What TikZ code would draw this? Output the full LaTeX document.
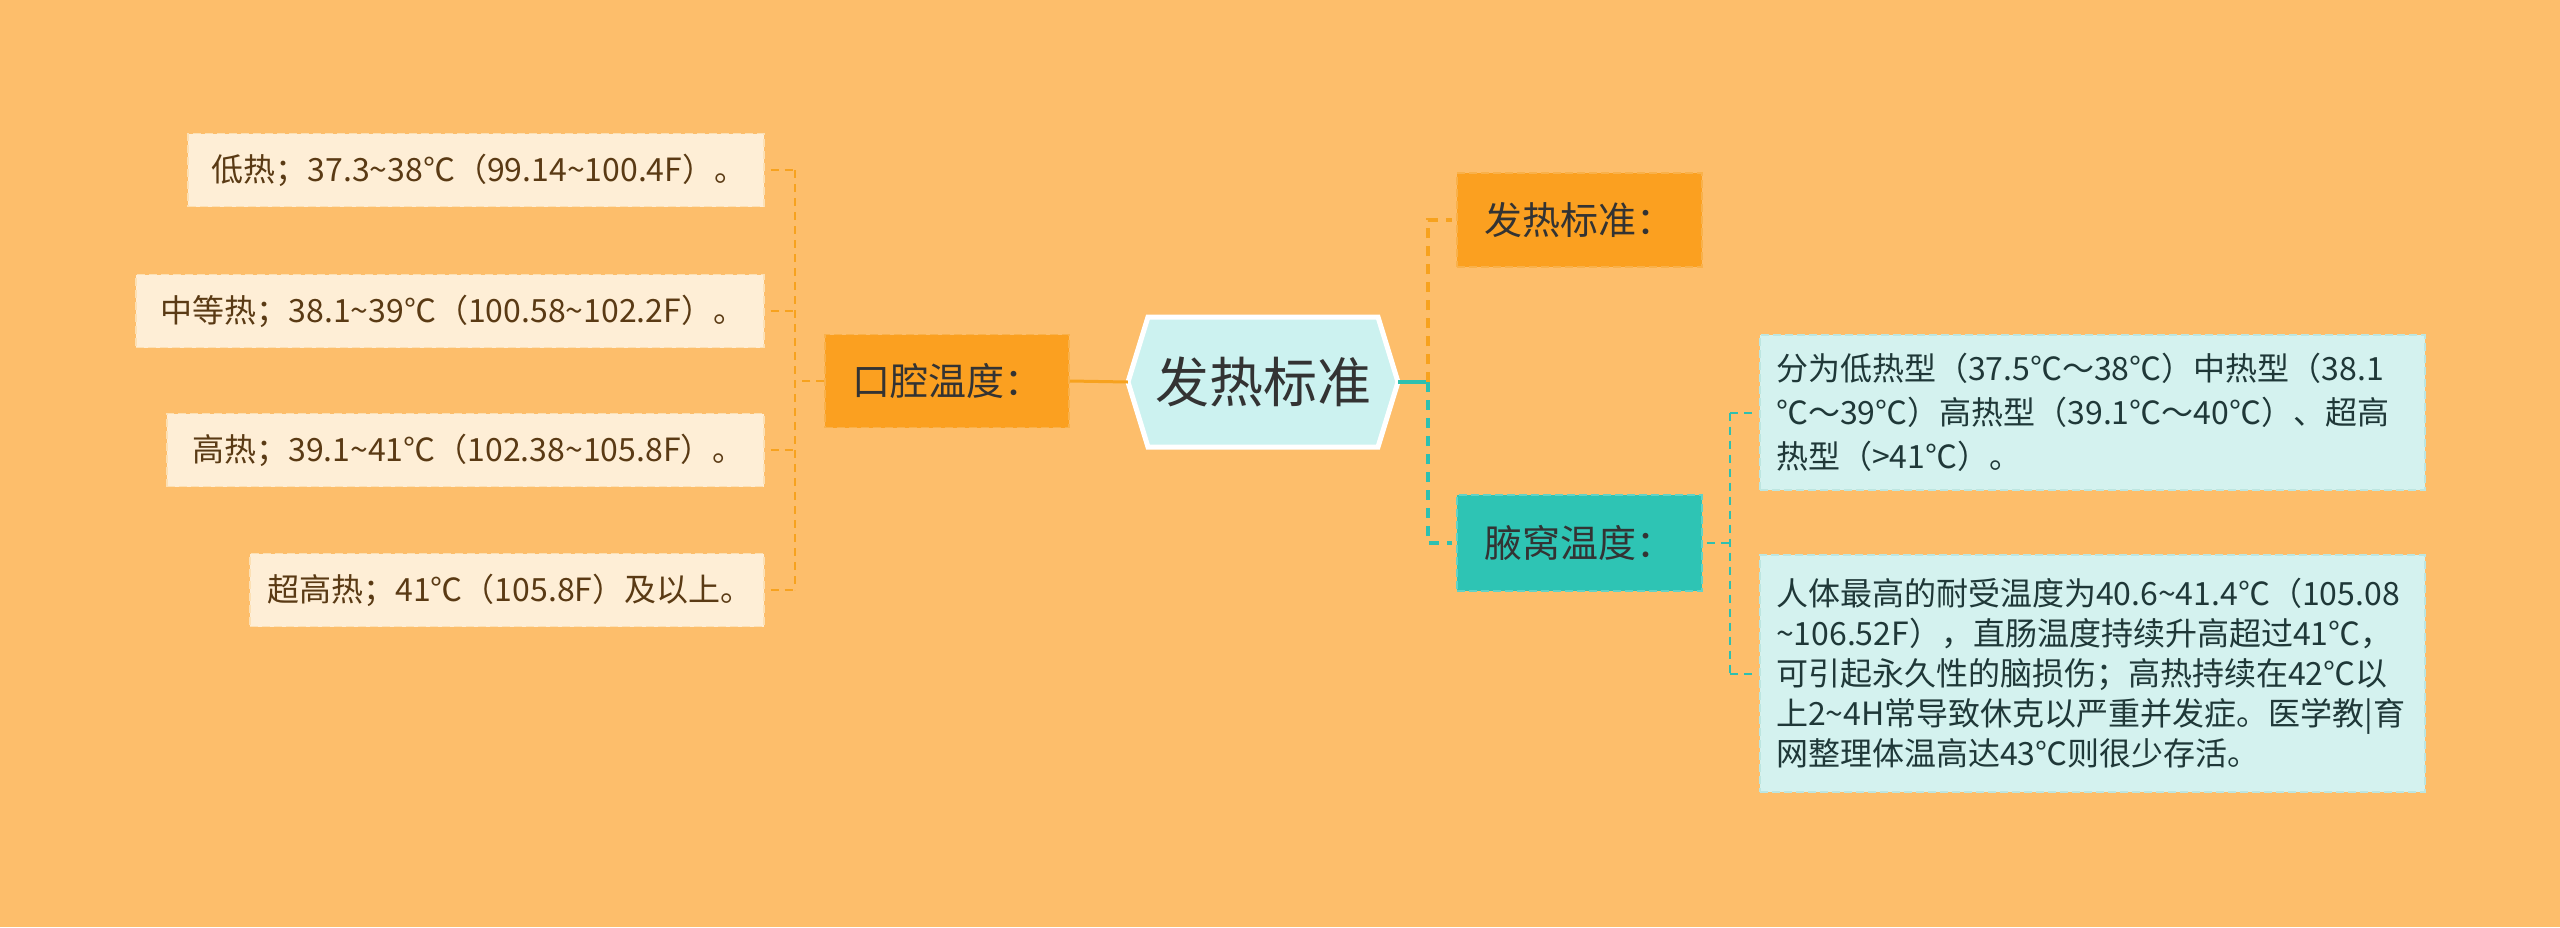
\documentclass[tikz,border=0pt]{standalone}
\usepackage{fontspec}
\setmainfont{Noto Sans CJK SC}
\usetikzlibrary{calc}
\definecolor{bg}{HTML}{FDBE6B}
\definecolor{leafLfill}{HTML}{FEEED6}
\definecolor{leafLdraw}{HTML}{FCE0B4}
\definecolor{leafLtext}{HTML}{5A3A14}
\definecolor{orfill}{HTML}{FBA020}
\definecolor{ordraw}{HTML}{F9B14A}
\definecolor{tealfill}{HTML}{2EC4B4}
\definecolor{tealdraw}{HTML}{62D3C6}
\definecolor{leafRfill}{HTML}{D4F2EF}
\definecolor{leafRdraw}{HTML}{BCE6E1}
\definecolor{leafRtext}{HTML}{1F3838}
\definecolor{hexfill}{HTML}{CCF2F0}
\definecolor{orline}{HTML}{F7A21E}
\definecolor{tealline}{HTML}{2EC0B0}
\definecolor{darktext}{HTML}{333333}
\tikzset{
  leafL/.style={rectangle, fill=leafLfill, draw=leafLdraw, line width=1.5pt,
    dash pattern=on 8pt off 4pt, minimum height=73pt, inner sep=0pt,
    text=leafLtext, font=\fontsize{32}{38}\selectfont},
  orbox/.style={rectangle, fill=orfill, draw=ordraw, line width=1.5pt,
    dash pattern=on 8pt off 4pt, inner sep=0pt, text=darktext,
    font=\fontsize{38}{44}\selectfont},
  tealbox/.style={rectangle, fill=tealfill, draw=tealdraw, line width=1.5pt,
    dash pattern=on 8pt off 4pt, inner sep=0pt, text=darktext,
    font=\fontsize{38}{44}\selectfont},
  leafR/.style={rectangle, fill=leafRfill, draw=leafRdraw, line width=1.5pt,
    dash pattern=on 8pt off 4pt, inner xsep=16pt, inner ysep=0pt,
    text width=633pt, align=left, text=leafRtext},
  lbus/.style={draw=orline, line width=2pt, dash pattern=on 8pt off 6pt},
  orthick/.style={draw=orline, line width=3.5pt, dash pattern=on 10pt off 8pt},
  tealthick/.style={draw=tealline, line width=3.5pt, dash pattern=on 10pt off 8pt},
  rbus/.style={draw=tealline, line width=2pt, dash pattern=on 8pt off 6pt},
}
\begin{document}
\begin{tikzpicture}[x=1pt,y=-1pt]
\useasboundingbox (0,0) rectangle (2560,927);
\fill[bg] (0,0) rectangle (2560,927);

% central hexagon
\node[minimum width=270pt, minimum height=130pt, inner sep=0pt,
      font=\fontsize{54}{60}\selectfont, text=darktext] (hex) at (1263,382) {};
\filldraw[fill=hexfill, draw=white, line width=5pt, line join=miter]
  (1128,382) -- (1148,317) -- (1378,317) -- (1398,382) -- (1378,447) -- (1148,447) -- cycle;
\node[font=\fontsize{54}{60}\selectfont, text=darktext] at (hex.center) {发热标准};

% left side
\node[orbox, minimum width=244pt, minimum height=93pt] (koq) at (947,381) {口腔温度：};
\node[leafL, minimum width=576pt] (l1) at (476,170) {\hspace*{6pt}低热；37.3\textasciitilde 38℃（99.14\textasciitilde 100.4F）。};
\node[leafL, minimum width=628pt] (l2) at (450,311) {\hspace*{6pt}中等热；38.1\textasciitilde 39℃（100.58\textasciitilde 102.2F）。};
\node[leafL, minimum width=597pt] (l3) at (465.5,450) {\hspace*{6pt}高热；39.1\textasciitilde 41℃（102.38\textasciitilde 105.8F）。};
\node[leafL, minimum width=514pt] (l4) at (507,590) {\hspace*{6pt}超高热；41℃（105.8F）及以上。};

% right side
\node[orbox, minimum width=245pt, minimum height=94pt] (fr) at (1579.5,220) {发热标准：};
\node[tealbox, minimum width=245pt, minimum height=96pt] (yw) at (1579.5,543) {腋窝温度：};
\node[leafR, minimum height=155pt, font=\fontsize{32}{44}\selectfont] (r1) at (2092.5,412.5)
  {分为低热型（37.5℃～38℃）中热型（38.1\\℃～39℃）高热型（39.1℃～40℃）、超高\\热型（>41℃）。};
\node[leafR, minimum height=237pt, font=\fontsize{32}{40}\selectfont] (r2) at (2092.5,673.5)
  {人体最高的耐受温度为40.6\textasciitilde 41.4℃（105.08\\\textasciitilde 106.52F），直肠温度持续升高超过41℃，\\可引起永久性的脑损伤；高热持续在42℃以\\上2\textasciitilde 4H常导致休克以严重并发症。医学教|育\\网整理体温高达43℃则很少存活。};

% connectors left
\draw[draw=orline, line width=3pt] (hex.west) -- (koq.east);
\coordinate (lb) at (795,381);
\draw[lbus] (koq.west) -- (lb);
\draw[lbus] (lb |- l1.east) -- (lb |- l4.east);
\foreach \i in {1,2,3,4} {
  \draw[lbus] ([xshift=6pt]l\i.east) -- (lb |- l\i.east);
}

% connectors right
\coordinate (rj) at (1428,382);
\draw[draw=tealline, line width=3.5pt] (hex.east) -- (rj);
\draw[orthick] (rj) |- ([xshift=-4pt]fr.west);
\draw[tealthick] (rj) |- ([xshift=-4pt]yw.west);
\coordinate (rb) at (1730,543);
\draw[rbus] ([xshift=4pt]yw.east) -- (rb);
\draw[rbus] (rb |- r1.west) -- (rb |- r2.west);
\draw[rbus] (rb |- r1.west) -- ([xshift=-6pt]r1.west);
\draw[rbus] (rb |- r2.west) -- ([xshift=-6pt]r2.west);
\end{tikzpicture}
\end{document}
